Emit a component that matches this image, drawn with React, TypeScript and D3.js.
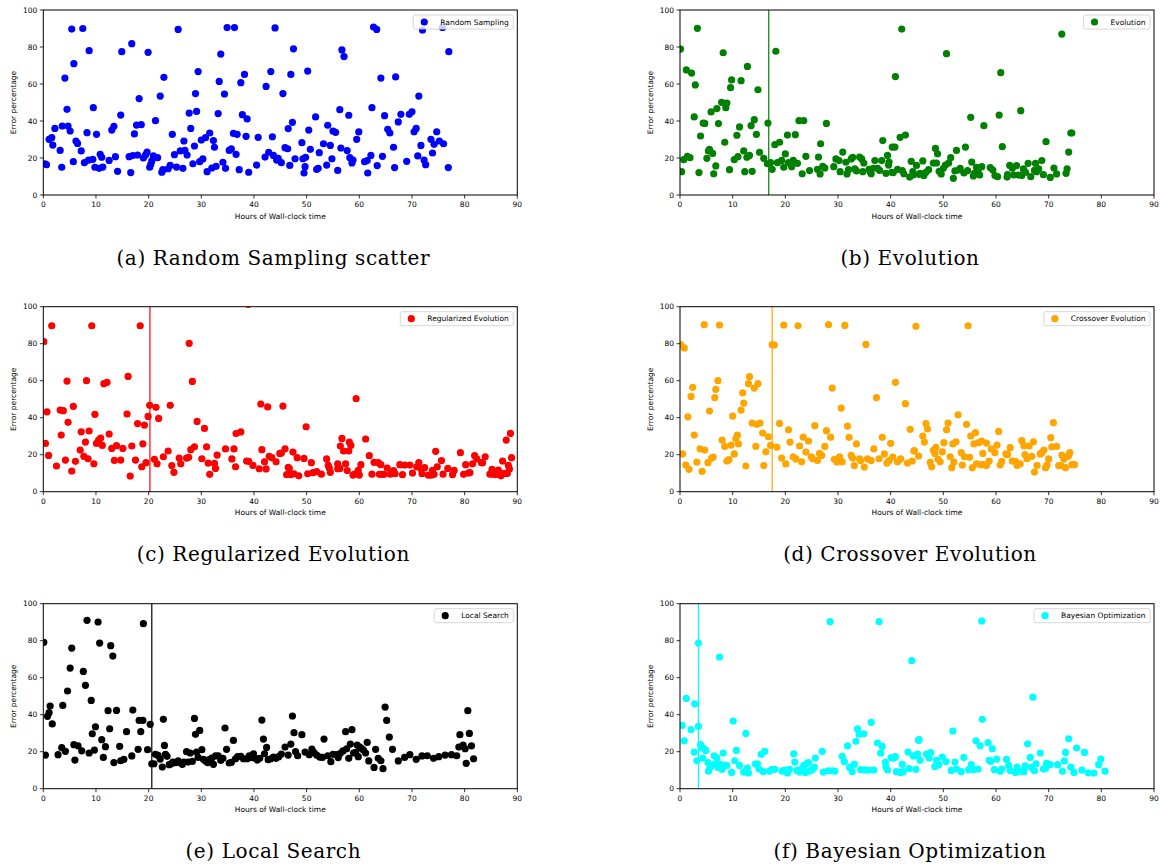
import React from "react";
import * as d3 from "d3";

// ---------- DATA ----------
const xTicks = [0, 10, 20, 30, 40, 50, 60, 70, 80, 90];
const yTicks = [0, 20, 40, 60, 80, 100];

const randomSampling: [number, number][] = [
  [0.3,16.9],[0.6,16.4],[1.1,30.1],[1.6,31],[1.8,27],[2.2,36],[3.2,24.1],[3.5,15],[3.6,37.3],[4.1,63.2],[4.5,46.3],[4.7,37.3],[5.1,34.6],[5.4,89.7],[5.7,18],[5.8,71],[6.2,29.2],[6.5,27.9],[7.2,23.8],[7.5,90],[7.8,17.5],[8.3,33.7],[8.7,78],[8.6,18.9],[9.4,19.3],[9.5,47.2],[9.8,15],[10.1,32.8],[10.6,14.4],[10.8,22],[11.1,20.4],[11.3,15.1],[12.5,18.7],[13,35.1],[13.4,37.1],[13.7,20.7],[14.1,12.8],[14.7,43.2],[14.9,77.5],[16.3,20.7],[16.6,12.1],[16.8,81.8],[17,21.3],[17.3,33],[17.7,37.8],[17.9,21.6],[18.2,52.1],[18.6,38],[19,20],[19.4,21.6],[19.7,23.2],[19.9,77.1],[20.2,15],[20.4,16.6],[20.6,18.4],[20.9,21.1],[21.3,40.2],[21.7,20.2],[22.2,53.5],[22.5,12.3],[22.7,13.7],[22.9,63.6],[23.7,14.2],[24.1,16],[24.5,32.8],[24.9,21.8],[25.3,15.1],[25.6,89.5],[26,23.8],[26.5,14.4],[26.7,29.2],[26.9,24.1],[27.3,21.6],[27.7,44.3],[28,36],[28.4,16.9],[28.7,26.5],[28.9,54.8],[29.1,45.2],[29.4,66.7],[29.7,18],[30,29.7],[30.3,19.5],[30.8,31],[31.1,12.6],[31.6,33.5],[32,14.6],[32.3,29.4],[32.5,25.8],[32.8,15.5],[33.2,44],[33.4,61.4],[33.7,76.2],[34.1,17.7],[34.4,54.6],[34.6,14.4],[34.9,90.5],[35.3,24.1],[35.7,24.9],[36.1,33.3],[36.3,90.5],[36.6,22],[36.8,32.8],[37.2,13.7],[37.5,60.7],[37.8,43.4],[38.2,65.2],[38.5,31.7],[38.7,41.1],[39,12.3],[40.5,16.2],[40.8,31.2],[42.1,20.5],[42.3,58.7],[42.8,23.1],[43.2,66.7],[43.5,31.5],[43.7,21.4],[44,90.3],[44.3,18.9],[44.6,19.8],[45.2,17.5],[45.5,54.8],[45.9,25.6],[46.4,25],[46.5,35.9],[46.8,16],[47,65.2],[47.3,39.3],[47.5,79],[47.8,19.6],[49.1,28.3],[49.3,19.6],[49.5,11.9],[49.7,15.3],[49.8,20.4],[50.2,67],[50.4,35.1],[50.7,24.7],[51.7,42.2],[51.9,13.9],[52.2,14.4],[52.4,22.9],[53.2,27.7],[53.8,16.2],[54,37.7],[54.5,26.8],[54.8,19.6],[55,34.6],[55.5,33.9],[55.9,13.3],[56.3,46.1],[56.5,25.4],[56.7,78.4],[57.1,74.8],[57.7,24],[58,43.1],[58.2,20.2],[58.6,17.3],[58.8,18.9],[59.5,30.1],[59.9,34.1],[61,18],[61.5,18.6],[61.6,11.9],[62.2,21.4],[62.4,47.2],[62.7,90.8],[63.3,89.5],[63.4,15.9],[64.1,63.2],[64.4,20.9],[64.8,42.9],[65.4,35.5],[65.8,33.5],[66.5,25.8],[66.7,14.8],[66.9,63.8],[67.4,39.5],[67.9,43.6],[69,18.2],[69.5,43.6],[70,45],[70.4,34.2],[70.8,36],[71.1,21.1],[71.3,53.5],[71.7,26.8],[72,89.2],[72.3,18.9],[72.6,16.4],[73.6,30.1],[73.9,22.7],[74.2,27.4],[74.7,34.2],[75.2,29.2],[75.8,90.6],[76,27.7],[77,77.5],[76.9,14.8]
];

const evolution: [number, number][] = [
  [0.1,78.9],[0.3,12.6],[0.7,19.1],[1.2,67.6],[1.4,20.9],[1.9,20.2],[2.2,65.9],[2.7,42.2],[2.9,59.5],[3.3,90.1],[3.6,12.1],[3.9,31.9],[4.4,38.9],[4.7,38.7],[5.1,19.8],[5.4,23.8],[5.6,24.7],[5.9,44.9],[6.2,22.5],[6.4,11.5],[6.8,15.7],[7,46.7],[7.3,38.6],[7.9,50.1],[8.2,76.9],[8.5,28.5],[8.7,47.2],[8.9,49.7],[9.4,13.7],[9.6,58],[9.8,62.2],[10.3,19.1],[10.8,32.3],[11,20.7],[11.3,36.8],[11.6,61.8],[12.1,23.8],[12.3,12.6],[12.7,20.4],[12.8,69.5],[13.2,21.4],[13.5,37.5],[13.7,12.8],[14.1,40.7],[14.5,32.8],[14.8,56.9],[15.1,23.1],[15.9,19.8],[16.7,38.9],[16.6,16.9],[17.2,17.5],[17.5,13.9],[18,27.2],[18.2,77.7],[18.5,17.5],[18.9,28.5],[19.3,18.7],[19.7,15],[20,22.2],[20.4,32.4],[20.6,17.5],[21.2,15.3],[21.5,18.7],[21.9,32.6],[22.3,17.1],[22.6,40.2],[23.2,11.5],[23.5,40.2],[23.9,20.9],[24.6,13.2],[26.1,13.9],[26.3,20.5],[26.6,11.4],[26.7,27.7],[27.1,15.5],[27.5,14.6],[27.8,38.7],[29.2,15.3],[29.6,19.5],[30.2,18.6],[30.4,12.6],[30.9,23.2],[31.5,17.7],[31.7,11.4],[32,13.7],[32.5,19.5],[32.8,20.4],[33.2,14.1],[33.5,13],[34.1,20.5],[34.5,19.5],[34.9,17.3],[34.7,12.6],[35.9,13.9],[36.1,12.6],[36.3,11.5],[36.7,14.4],[37,18.6],[37.5,14.4],[37.9,13.3],[38.3,18.6],[38.5,29.4],[39.1,11.7],[39.4,21.4],[39.6,16.2],[39.7,17.8],[40.2,12.3],[40.3,25.9],[40.8,25.9],[40.9,64],[40.5,12.1],[41.3,13.9],[41.8,31.2],[42.1,89.7],[42.2,13.2],[42.5,11.5],[42.8,32.4],[43.6,9.7],[43.9,18.2],[44.2,12.6],[44.3,10.8],[44.9,16],[45.4,11.2],
  [45.6,11.7],[46.1,18.4],[46.3,10.6],[46.7,12.3],[47.2,13.7],[48.1,17.3],[48.5,25.2],[48.7,17.3],[48.9,22.3],[49.2,12.8],[49.6,11.4],[50,14.4],[50.4,16.2],[50.6,76.4],[51,17.3],[51.4,20.2],[51.9,9],[52.2,13],[52.5,24.1],[52.9,13.5],[53.2,14.4],[53.9,11.9],[54.2,25.9],[54.6,13.2],[55.2,42],[55.4,17.8],[55.7,10.3],[55.9,11.7],[56.3,15],[56.6,13.2],[56.9,10.8],[57.3,15.3],[57.7,37.5],[58.9,14.8],[59.4,13.5],[59.8,10.5],[60.3,9.9],[60.6,43.2],[60.9,66.1],[61.2,26.1],[62.1,9.7],[62.2,11],[62.6,16],[63.1,14.4],[63.4,10.8],[63.9,15.9],[64.3,10.8],[64.7,45.6],[64.9,10.5],[65.2,14.1],[65.6,12.3],[66.1,17.1],[66.6,9.9],[67.3,13.3],[67.5,17.1],[67.7,12.6],[68.1,14.1],[68.7,18.6],[69,11],[69.5,28.8],[70.3,9.5],[71,14.6],[71.5,11.4],[72.5,87],[73.3,11.7],[73.5,14.2],[73.8,23.2],[74.2,33.5],[74.4,33.5]
];

const regularizedEvolution: [number, number][] = [
  [0.1,81.1],[0.4,26.1],[0.7,43.2],[1,19.6],[1.6,89.7],[2.5,13.9],[3.2,44.1],[3.4,30.6],[3.8,43.8],[4.2,17.1],[4.5,59.8],[4.7,37.5],[5.4,11.2],[5.7,46.1],[6.1,16.4],[7,22.5],[7.2,32.4],[7.7,19.1],[8,26.8],[8.2,60],[8.5,17.8],[8.7,32.8],[9.2,89.7],[9.6,15.1],[9.8,41.8],[10.1,26.1],[10.5,27.9],[10.9,29],[11.2,25],[11.5,58.4],[12.1,59.1],[12.5,31.2],[13,23.4],[13.5,16.9],[13.9,24.9],[14.7,17.1],[15.1,23.4],[15.9,42],[16.1,62.3],[16.5,8.5],[16.8,24.7],[17.5,17.1],[17.9,36.8],[18.4,89.7],[18.7,13.5],[18.9,25.9],[19.2,36],[19.5,15.7],[19.9,40.7],[20.2,46.7],[21.1,17.5],[21.4,45.6],[21.6,15.1],[21.9,39.6],[22.8,18.9],[23.7,22],[24.1,46.7],[24.4,14.1],[24.8,10.5],[25.8,18.2],[26.1,15.1],[27.2,18.2],[27.6,18.6],[27.7,80.2],[28,22.7],[28.3,59.6],[28.7,24.3],[29.2,38],[30.1,17.8],[30.6,34.2],[31,24.3],[31.3,15.5],[31.6,9.4],[32.5,15.3],[32.7,12.6],[33,19.8],[34.6,23.1],[35.8,17.7],[36.2,23.1],[36.5,13.5],[36.6,31.4],[37.5,32.3],[38.6,16.6],[39,16.4],[38.9,101.2],[39.8,14.2],[41,12.4],[41.3,47.4],[41.5,22.7],[42,16.2],[42.3,12.3],[42.6,45.8],[42.9,19.1],[43.4,18.4],[44.2,16.2],[44.9,20.7],
  [45.2,20.9],[45.5,46.3],[45.9,23.2],[46.5,13.2],[46.7,12.6],[46.2,9.2],[47,9.2],[47.4,21.4],[47.6,9.7],[48.2,18.4],[48.5,8.6],[49.5,18],[49.9,35.1],[50.2,9.7],[50.9,15.7],[51.2,10.3],[51.9,10.8],[52.8,9.5],[53.8,17.7],[54.1,14.2],[54.3,12.8],[54.5,10.5],[55.9,15],[55.9,12.4],[56.3,12.6],[56.4,24.7],[56.7,28.8],[57,22],[57.4,15.1],[57.7,11.4],[58,22],[58.1,26.8],[58.4,25],[58.8,9],[59.1,9.5],[59.4,50.3],[59.8,11.5],[60,9],[60.3,14.6],[61.2,28.5],[61.9,19.5],[62.4,9.5],[62.8,15.9],[63.6,15.7],[64.1,14.6],[63.8,9.4],[64.3,9.4],[64.7,9.4],[65.3,12.8],[65.9,9.5],[66.5,11.4],[66.8,9.7],[67.7,14.6],[68.2,9.2],[68.6,14.4],[69.6,14.4],[70.1,10.1],[70.9,13.5],[71.3,15.7],[71.7,12.4],[71.9,9.7],[72.4,13],[73.1,9],[73.7,9],[73.9,11.5],[74.2,9.4],[74.5,21.8],[74.8,13.5],[75.6,16.8],[75.9,9.5],[76.8,12.6],[77.7,9.2],[78,11.5],[79.2,21.1],[79.8,9.4],[80.2,14.6],[80.7,10.1],[81,10.3],[81.5,15.1],[81.9,19.5],[82.3,17.7],[83.2,15.7],[83.4,15.7],[83.9,18.9],[84.8,9.5],[85.2,12.1],[85.3,9.5],[85.9,9.2],[86.4,11.7],[86.9,8.6],[87.2,16.6],[87.5,9.9],[87.9,27.9],[88.1,9.9],[88.3,14.2],[88.5,12.3],[88.7,31.5],[88.9,18.4]
];

const crossoverEvolution: [number, number][] = [
  [0.1,79.5],[0.5,20.4],[0.8,77.7],[1.1,14.4],[1.5,40.5],[1.7,12.1],[2.1,51.5],[2.4,56.4],[2.7,30.6],[3.2,16],[3.8,23.2],[4.2,11],[4.6,90.3],[4.7,22.5],[5.3,15.7],[5.6,43.6],[6,18.2],[6.3,18.7],[6.6,50.8],[6.8,55.3],[7.2,60],[7.5,90.1],[8,27.9],[8.5,24.5],[8.9,16.6],[9.3,17.3],[9.7,25.2],[10,40.9],[10.3,20.4],[10.6,28.6],[10.9,30.6],[11.1,25.8],[11.6,44.1],[11.9,53.5],[12.1,47.9],[12.5,13.9],[13,58.4],[13.2,62.2],[13.7,37.1],[14.1,56],[14.4,24.5],[14.6,36.4],[14.8,58.4],[15.2,37.1],[15.7,31.7],[15.9,14.1],[16.3,21.6],[16.8,29.7],[17.2,25],[17.5,79.5],[17.9,79.3],[18.4,24.1],[18.9,36.9],[19.3,18.2],[19.7,90.1],[20.1,15],[20.6,33.5],[20.9,26.8],[21.5,18.9],[22,17.7],[22.4,89.7],[22.7,24.7],[23.1,16.2],[23.4,29.5],[23.9,21.4],[24.4,27.4],[24.9,18.9],[25.2,17.8],[25.6,35.7],[26.1,16.9],[26.5,20.7],[26.9,19.6],[27.5,24.5],[27.8,33],[28.2,90.3],[28.6,29.5],[28.9,56],[29.3,17.5],[29.8,16],[30.3,18.9],[30.6,45.2],[30.8,16.2],[31.3,89.9],[31.8,35.5],[32.1,29.4],[32.5,19.6],[32.8,18.2],[33.1,14.1],[33.5,25.8],[34.1,17.7],[34.3,16.8],[35,13.3],[35.3,79.6],[35.6,17.7],[36.3,16.8],[36.8,23.1],[37.3,50.8],[37.8,17.8],[38.4,29.4],[38.8,20.4],[39.3,15.5],[39.7,16.8],[40,26.1],[40.4,18.7],[40.9,59.1],[41.3,16.2],[41.9,17.7],[42.8,47.6],[43.2,15.5],[43.7,33.7],[44.1,16.6],[44.4,22],[44.8,89.4],[45.3,19.3],
  [44.5,22.2],[46.1,30.1],[46.4,26.8],[46.7,36.8],[47,33.9],[47.5,15.9],[47.8,13.5],[48.1,22.3],[48.4,20.7],[48.6,24],[49,17.5],[49.4,16.2],[49.8,21.6],[50.1,26.5],[50.6,33.5],[50.9,37.1],[51.3,18.9],[51.6,13],[51.8,25.8],[52,16],[52.4,27],[52.8,41.6],[53.4,21.1],[53.6,14.4],[54,18.9],[54.4,36.4],[54.7,89.7],[55,18.6],[55.2,30.1],[55.5,13],[55.8,25.9],[56.1,31.9],[56.3,15.1],[56.7,26.5],[57.1,14.6],[57.3,27.4],[57.5,20.7],[57.7,14.6],[58.2,26.3],[58.2,14.1],[58.7,16.6],[59.1,23.1],[59.8,21.1],[60.2,25.2],[60.5,32.6],[60.8,14.4],[61.1,16.4],[61.9,20.4],[62.2,20],[62.7,23.8],[63.1,16.6],[63.7,16.4],[64,14.2],[64.6,15],[64.9,27.6],[65.3,24.9],[65.5,20],[65.9,17.8],[66.3,24.7],[66.8,19.1],[67.1,27],[67.3,10.6],[67.8,14.2],[68.4,20.4],[68.7,21.1],[69.1,22.5],[69.4,13],[69.7,14.4],[70,17.7],[70.4,29.2],[70.6,24.3],[70.9,37.3],[71.5,24.5],[71.9,14.1],[72.3,14.1],[72.5,19.8],[72.9,17.7],[73.2,13],[73.5,18.9],[73.8,19.6],[74,21.1],[74.4,14.6],[74.9,14.6]
];

const localSearch: [number, number][] = [
  [0.1,79.1],[0.4,18.2],[0.8,39.1],[1.1,41.1],[1.3,44.7],[1.7,35],[2.8,18.4],[3.5,22.2],[3.7,45],[4.2,20.2],[4.6,52.8],[5.1,65.2],[5.4,76],[5.8,23.8],[6,15.5],[6.6,23.2],[7.3,20.5],[7.6,63.4],[8,55.9],[8.3,91],[8.7,19.3],[9.1,47.7],[9.3,29.7],[9.7,20.9],[9.9,33.5],[10.4,90.1],[10.7,78.7],[11.1,26.5],[11.4,16.9],[11.8,22.7],[12.3,42.2],[12.6,32.4],[12.8,77.3],[13.2,71.7],[13.4,14.1],[13.9,42.3],[14.5,22.9],[14.7,15.1],[15.3,15.9],[15.8,30.8],[16.8,17.7],[17,42.5],[18,21.3],[18.2,36.9],[18.5,30.8],[18.9,36.9],[19,89.2],[19.8,21.1],[20.3,34.8],[20.6,13.5],[21,13.5],[21.3,18.6],[21.8,18],[22.2,16],[22.6,11.7],[22.8,37.5],[23,23.4],[23.2,18.6],[23.5,17.5],[23.9,13],[24.3,13.5],[24.6,14.4],[25.1,14.1],[25.6,15],[25.9,14.1],[26.4,13.2],[26.7,14.4],[27.2,20],[27.5,14.4],[27.9,19.3],[28.3,14.8],[28.7,38],[28.9,29.4],[29.1,19.8],[29.4,16.9],[29.7,31.5],[30.1,21.1],[30.4,15.9],[30.8,15],[31.2,14.1],[31.5,15.7],[32,16.6],[32.3,13.2],[32.7,17.7],[33.2,17.8],[33.7,15.3],[34.1,16.4],[34.5,32.8],[34.8,21.3],[35.3,13.9],[35.7,14.2],[36.1,26.1],[36.5,16.2],[36.9,17.3],[37.5,17.5],[38,16.2],[38.7,16.2],[39.1,17.7],[39.6,16.8],[39.9,18.9],[40.2,16.6],[40.6,15.5],[41.1,16.4],[41.5,37.1],[41.8,26.8],[42,18.9],[42.4,22.3],[42.7,15.7],[43.2,16.2],[43.7,17.1],[44.2,16.4],[44.7,17.3],
  [45.2,18.7],[45.9,22.5],[46.5,18.2],[47,24.1],[47.3,39.3],[47.6,30.3],[47.9,20],[48.3,17.8],[49.1,29.2],[49.7,19.8],[50.5,18.4],[51,21.4],[51.4,19.5],[51.9,18.2],[52.5,17.1],[53,16.9],[53.3,26.8],[54,17.8],[54.6,14.6],[55,18.6],[55.7,18.4],[56,16.8],[56.4,19.1],[56.9,20.4],[57.4,30.8],[57.6,21.6],[58,16.4],[58.3,24.1],[58.6,31.9],[58.9,19.3],[59.3,19.6],[59.6,23.6],[59.8,17.3],[60.1,22.5],[60.5,21.6],[60.8,20.9],[61.2,19.3],[61.5,25],[61.8,15],[62.8,11.5],[63.1,21.3],[63.6,16.4],[64.1,15.1],[64.5,10.8],[64.9,44.1],[65.2,36.9],[65.7,27.9],[66.3,21.3],[67.4,15],[68.6,16.9],[69.6,18.4],[70.8,15.9],[71.9,17.7],[72.9,17.8],[74.1,16.4],[75.1,17.3],[76.3,18.2],[77.5,18.4],[78.5,17.8],[78.9,22.5],[79.1,29.2],[79.7,23.6],[80.1,21.6],[80.3,13.7],[80.6,42.2],[80.9,29.9],[81.3,23.2],[81.7,16.2]
];

const bayesianOptimization: [number, number][] = [
  [0.4,34.2],[0.8,25.9],[1.2,48.8],[2.1,31.9],[2.7,19.8],[2.8,45.8],[3.2,15.1],[3.5,33.7],[3.5,78.7],[3.9,23.8],[4.1,22.2],[4.3,16.6],[4.6,21.6],[4.9,20.7],[5.3,14.1],[5.4,9.5],[5.7,11.7],[6,12.6],[6.5,17.8],[6.6,13.2],[7,16.6],[7.2,11.5],[7.5,71.2],[7.6,13.2],[8,10.5],[8.2,19.3],[8.5,12.8],[8.9,12.6],[9.8,8.8],[10.1,36.6],[10.4,15.1],[10.7,20.7],[11.3,12.6],[12.1,9],[12.5,29.9],[12.8,11.2],[13,8.5],[14.3,13.3],[14.7,13.5],[15,10.6],[15.4,18.6],[15.8,9.2],[16.1,20.2],[17,9.5],[17.5,10.5],[18,10.5],[19.4,9.5],[19.9,10.1],[20.4,8.5],[20.8,10.5],[21.6,18.9],[21.8,14.4],[22.2,9.9],[22.7,9],[23.2,11.2],[23.5,12.6],[23.8,8.8],[24.1,13.7],[24.4,14.1],[24.6,9.5],[25.1,10.3],[25.5,11.7],[25.7,16.6],[27,20.2],[27.2,9],[28.1,9.7],[28.5,90.3],[28.9,9.7],[29.4,9.4],[30.8,17.5],[31.2,14.6],[31.8,23.1],[32.2,11.5],[32.7,9.2],[33.1,13.2],[33.4,25.6],[33.7,32.3],[34,29.5],[34.3,10.3],[34.9,29.7],[35.1,10.1],[35.8,10.1],[36.3,35.9],[36.8,10.1],[37.5,24.7],[37.8,90.3],[38.1,19.3],[38.4,22.9],[39,14.2],[39.1,11.7],[39.4,10.1],[40.1,16.8],[40.6,16.4],[40.9,17.3],[41.1,9.2],[41.8,8.8],[42.2,13.2],[42.4,9.2],[43.3,19.8],[43.5,10.8],[44,69.2],[44.3,17.7],[44.8,10.5],[44.9,18.2],[45.3,26.1],[45.6,15.3],
  [45.1,18.7],[45.4,26.5],[46.8,18.7],[47.3,16.6],[47.6,19.5],[48.4,11.9],[48.7,15.3],[49.1,13],[49.8,17.1],[50.5,14.6],[51.5,9.9],[51.8,31.2],[52.2,14.4],[52.5,10.6],[53.4,9.2],[53.9,16.9],[54.8,10.3],[55.3,13],[55.7,10.3],[56.2,25.9],[56.6,10.6],[57,23.2],[57.3,90.6],[57.4,37.5],[58.5,24.9],[59.3,21.6],[58.7,15.3],[59,14.8],[59.7,10.3],[60.1,16],[60.8,9.4],[61.1,10.6],[62,15.9],[62.4,12.6],[62.7,9.9],[63.7,8.8],[64,11.7],[64.6,9.4],[65.3,9.2],[65.5,12.3],[66,24.3],[66.5,16.9],[66.7,11.5],[67,49.5],[67.3,9.7],[67.6,13.5],[68.4,19.3],[69,10.6],[69.4,11],[69.6,13.7],[70.3,13],[71.7,13],[72.6,9.4],[73,15],[73.2,19.6],[73.8,27],[74.2,11.7],[74.8,8.8],[75.3,22],[76.3,10.1],[76.8,19.6],[77.5,8.6],[78.6,8.5],[79.5,13],[79.9,16],[80.7,9.5]
];

// ---------- LAYOUT ----------
const PLOT_W = 474;
const PLOT_H = 185;
const colLeft = [43.3, 680];
const rowTop = [10, 306.7, 603.7];

const panels = [
  { data: randomSampling, color: "#0000ff", label: "Random Sampling", caption: "(a) Random Sampling scatter", col: 0, row: 0, vline: null as number | null },
  { data: evolution, color: "#008000", label: "Evolution", caption: "(b) Evolution", col: 1, row: 0, vline: 16.85 },
  { data: regularizedEvolution, color: "#ff0000", label: "Regularized Evolution", caption: "(c) Regularized Evolution", col: 0, row: 1, vline: 20.25 },
  { data: crossoverEvolution, color: "#ffa500", label: "Crossover Evolution", caption: "(d) Crossover Evolution", col: 1, row: 1, vline: 17.5 },
  { data: localSearch, color: "#000000", label: "Local Search", caption: "(e) Local Search", col: 0, row: 2, vline: 20.6 },
  { data: bayesianOptimization, color: "#00ffff", label: "Bayesian Optimization", caption: "(f) Bayesian Optimization", col: 1, row: 2, vline: 3.5 },
];

const SANS = "'DejaVu Sans', sans-serif";
const SERIF = "'DejaVu Serif', serif";
const FS = 7.5;

function measure(text: string, font: string): number {
  const c = document.createElement("canvas");
  const ctx = c.getContext("2d")!;
  ctx.font = font;
  return ctx.measureText(text).width;
}

function Panel({ p }: { p: typeof panels[number] }) {
  const left = colLeft[p.col];
  const top = rowTop[p.row];
  const x = d3.scaleLinear().domain([0, 90]).range([left, left + PLOT_W]);
  const y = d3.scaleLinear().domain([0, 100]).range([top + PLOT_H, top]);
  const bottom = top + PLOT_H;
  const right = left + PLOT_W;
  const tw = measure(p.label, `${FS}px DejaVu Sans`);
  const lw = 27 + tw + 4.5;
  const lx = right - 4 - lw;
  const ly = top + 5;
  const clipId = `clip-${p.col}-${p.row}`;
  return (
    <g>
      <defs>
        <clipPath id={clipId}>
          <rect x={left} y={top} width={PLOT_W} height={PLOT_H} />
        </clipPath>
      </defs>
      <g clipPath={`url(#${clipId})`}>
        {p.data.map((d, i) => (
          <circle key={i} cx={x(d[0])} cy={y(d[1])} r={3.6} fill={p.color} />
        ))}
        {p.vline !== null && (
          <line x1={x(p.vline)} x2={x(p.vline)} y1={top} y2={bottom} stroke={p.color} strokeWidth={1.2} />
        )}
      </g>
      <rect x={left} y={top} width={PLOT_W} height={PLOT_H} fill="none" stroke="#000" strokeWidth={1} />
      {xTicks.map((t) => (
        <g key={`x${t}`}>
          <line x1={x(t)} x2={x(t)} y1={bottom} y2={bottom + 3.5} stroke="#000" strokeWidth={0.8} />
          <text x={x(t)} y={bottom + 12} fontSize={FS} fontFamily={SANS} textAnchor="middle" fill="#000">{t}</text>
        </g>
      ))}
      {yTicks.map((t) => (
        <g key={`y${t}`}>
          <line x1={left} x2={left - 3.5} y1={y(t)} y2={y(t)} stroke="#000" strokeWidth={0.8} />
          <text x={left - 6} y={y(t) + 2.7} fontSize={FS} fontFamily={SANS} textAnchor="end" fill="#000">{t}</text>
        </g>
      ))}
      <text x={(left + right) / 2} y={bottom + 23.5} fontSize={FS} fontFamily={SANS} textAnchor="middle" fill="#000">Hours of Wall-clock time</text>
      <text transform={`translate(${left - 27.5},${top + PLOT_H / 2}) rotate(-90)`} fontSize={FS} fontFamily={SANS} textAnchor="middle" fill="#000">Error percentage</text>
      <rect x={lx} y={ly} width={lw} height={14} rx={2} fill="#fff" fillOpacity={0.8} stroke="#cccccc" strokeWidth={0.8} />
      <circle cx={lx + 11} cy={ly + 7} r={3.6} fill={p.color} />
      <text x={lx + 27} y={ly + 9.7} fontSize={FS} fontFamily={SANS} fill="#000">{p.label}</text>
      <text x={(left + right) / 2 - 7} y={bottom + 69.5} fontSize={20} letterSpacing={0.6} fontFamily={SERIF} textAnchor="middle" fill="#000">{p.caption}</text>
    </g>
  );
}

export default function App() {
  return (
    <svg width={1160} height={864} style={{ position: "absolute", left: 0, top: 0, background: "#fff" }}>
      <rect x={0} y={0} width={1160} height={864} fill="#fff" />
      {panels.map((p, i) => (
        <Panel key={i} p={p} />
      ))}
    </svg>
  );
}
